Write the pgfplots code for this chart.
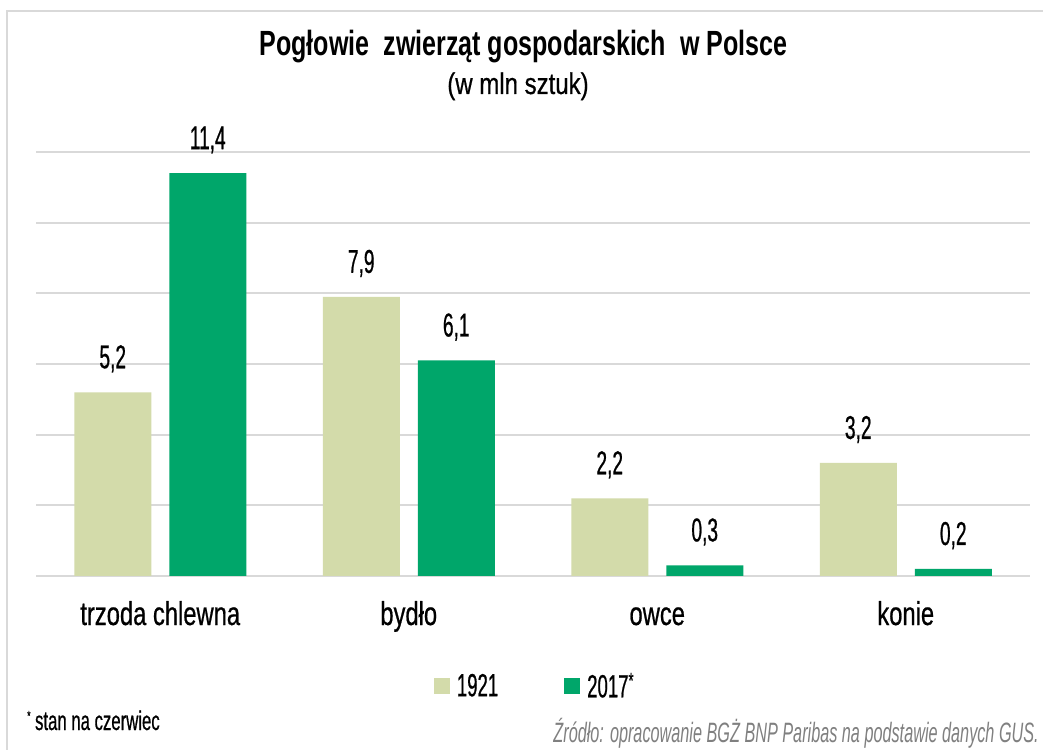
\documentclass[border=0pt]{standalone}
\usepackage{pgfplots}
\pgfplotsset{compat=1.18}
\usepackage{fontspec}
\setmainfont{Liberation Sans}[FakeStretch=0.72, FakeBold=0.6]
\newfontfamily\numfont{Liberation Sans}[FakeStretch=0.58, FakeBold=0.6]
\newfontfamily\subfam{Liberation Sans}[FakeStretch=0.8, FakeBold=0.6]
\newfontfamily\titlefam{Liberation Sans}[FakeStretch=0.716]
\newfontfamily\footfam{Liberation Sans}[FakeStretch=0.62, FakeBold=0.6]
\newfontfamily\srcfam{Liberation Sans}[FakeStretch=0.58]
\definecolor{cold}{HTML}{D3DBAA}
\definecolor{cnew}{HTML}{00A66A}
\definecolor{gridc}{HTML}{D9D9D9}
\definecolor{srcgray}{HTML}{808080}
\begin{document}
\begin{tikzpicture}[x=1pt,y=1pt]
\clip (0,0) rectangle (1043,749);
\fill[white] (0,0) rectangle (1043,749);
\draw[line width=2.5pt, gridc] (7,-20) -- (7,738) -- (1080,738);
\begin{axis}[
  at={(36pt,173pt)}, anchor=south west,
  width=994pt, height=424pt, scale only axis,
  xmin=-0.5, xmax=3.5, ymin=0, ymax=12,
  clip=false,
  axis line style={draw=none},
  major tick length=0pt,
  ytick={0,2,...,12}, yticklabels={},
  ymajorgrids, grid style={line width=2pt, gridc},
  xtick={0,1,2,3},
  xticklabels={trzoda chlewna, bydło, owce, konie},
  xticklabel style={anchor=base, yshift=-49pt, font=\fontsize{33}{36}\selectfont},
  /pgf/number format/.cd, use comma, fixed, fixed zerofill, precision=1, assume math mode=true,
  /pgfplots/.cd,
  nodes near coords,
  nodes near coords style={anchor=base, yshift=24pt, font=\numfont\fontsize{33}{36}\selectfont, text=black},
  legend style={at={(0.502,-0.259)}, anchor=center, draw=none, fill=none,
    legend columns=2, font=\numfont\fontsize{32}{34}\selectfont,
    /tikz/every odd column/.append style={column sep=5pt},
    /tikz/every even column/.append style={column sep=64pt}},
]
\addplot[ybar, fill=cold, draw=none, bar width=77pt, bar shift=-47.5pt,
  every node near coord/.append style={xshift=-47.5pt},
  legend image code/.code={\fill[cold] (0pt,-8pt) rectangle (16pt,8pt);}]
  coordinates {(0,5.2) (1,7.9) (2,2.2) (3,3.2)};
\addlegendentry{1921}
\addplot[ybar, fill=cnew, draw=none, bar width=77pt, bar shift=47.5pt,
  every node near coord/.append style={xshift=47.5pt},
  legend image code/.code={\fill[cnew] (0pt,-8pt) rectangle (16pt,8pt);}]
  coordinates {(0,11.4) (1,6.1) (2,0.3) (3,0.2)};
\addlegendentry{2017\textsuperscript{*}}
\end{axis}
\node[anchor=base, font=\titlefam\bfseries\fontsize{35}{38}\selectfont] at (523.5,693) {Pogłowie\ \ zwierząt gospodarskich\ \ w Polsce};
\node[anchor=base, font=\subfam\fontsize{30}{32}\selectfont] at (518,655) {(w mln sztuk)};
\node[anchor=base west, inner sep=0pt, font=\footfam\fontsize{27}{30}\selectfont] at (27,19) {\raisebox{0.35em}{\fontsize{14}{14}\selectfont*}\,stan na czerwiec};
\node[anchor=base east, inner sep=0pt, font=\srcfam\itshape\fontsize{28}{30}\selectfont, text=srcgray] at (1039,7) {Źródło: opracowanie BGŻ BNP Paribas na podstawie danych GUS.};
\end{tikzpicture}
\end{document}
